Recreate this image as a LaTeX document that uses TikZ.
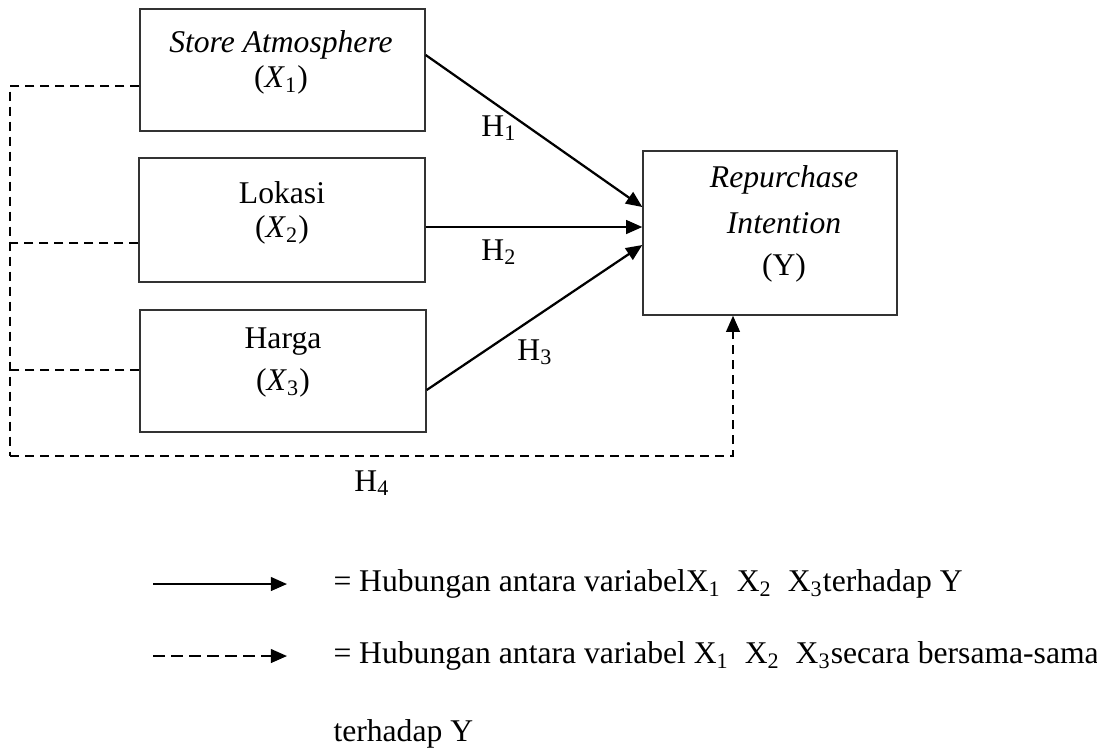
\documentclass[tikz,border=0pt]{standalone}
\usepackage{fontspec}
\setmainfont{Liberation Serif}
\usetikzlibrary{arrows.meta}
\begin{document}
\begin{tikzpicture}[x=0.4pt,y=-0.4pt,
  varbox/.style={draw=black!80,line width=0.55pt,minimum width=#1*0.4pt,inner sep=0pt},
  txt/.style={font=\fontsize{12.65pt}{14pt}\selectfont,inner sep=0pt,anchor=center},
  ltxt/.style={font=\fontsize{12.65pt}{14pt}\selectfont,inner sep=0pt,anchor=west},
  solidarrow/.style={line width=0.9pt,-{Triangle[length=6.5pt,width=5.5pt]}},
  dashline/.style={line width=0.8pt,dash pattern=on 3.6pt off 2.4pt},
  dasharrow/.style={dashline,-{Triangle[length=6.5pt,width=5.5pt]}},
  legdash/.style={line width=0.9pt,dash pattern=on 4.6pt off 2.6pt,-{Triangle[length=6.5pt,width=5.5pt]}}]
\useasboundingbox (0,0) rectangle (1097,749);
% boxes
\node[varbox=285,minimum height=48.8pt] (x1box) at (282.5,70) {};
\node[varbox=286,minimum height=49.6pt] (x2box) at (282,220) {};
\node[varbox=286,minimum height=48.8pt] (x3box) at (283,371) {};
\node[varbox=254,minimum height=65.6pt] (ybox) at (770,233) {};
% box texts
\node[txt] (t1a) at (281,45) {\textit{Store Atmosphere}};
\node[txt] (t1b) at (281,80) {(\textit{X}\textsubscript{1})};
\node[txt] (t2a) at (282,193) {Lokasi};
\node[txt] (t2b) at (282,230) {(\textit{X}\textsubscript{2})};
\node[txt] (t3a) at (283,342) {Harga};
\node[txt] (t3b) at (283,383) {(\textit{X}\textsubscript{3})};
\node[txt] (tya) at (784,180) {\textit{Repurchase}};
\node[txt] (tyb) at (784,223) {\textit{Intention}};
\node[txt] (tyc) at (784,268) {(Y)};
% solid arrows
\draw[solidarrow] (x1box.east |- 0,55) -- (ybox.west |- 0,207);
\draw[solidarrow] (x2box.east |- 0,227) -- (ybox.west |- 0,227);
\draw[solidarrow] (x3box.east |- 0,390) -- (ybox.west |- 0,245);
\node[txt] (h1) at (499,128) {H\textsubscript{1}};
\node[txt] (h2) at (499,252) {H\textsubscript{2}};
\node[txt] (h3) at (535,352) {H\textsubscript{3}};
% dashed
\coordinate (tl) at (10,86);
\coordinate (j2) at (10,243);
\coordinate (j3) at (10,370);
\coordinate (bl) at (10,456);
\coordinate (br) at (733,456);
\draw[dashline] (x1box.west |- tl) -- (tl) -- (bl);
\draw[dashline] (x2box.west |- j2) -- (j2);
\draw[dashline] (x3box.west |- j3) -- (j3);
\draw[dasharrow] (bl) -- (br) -- (br |- ybox.south);
\node[txt] (h4) at (372,483) {H\textsubscript{4}};
% legend
\coordinate (la1) at (153,584);
\coordinate (la2) at (287,584);
\coordinate (lb1) at (153,656);
\coordinate (lb2) at (287,656);
\draw[solidarrow] (la1) -- (la2);
\draw[legdash] (lb1) -- (lb2);
\node[ltxt] (leg1) at (333,584) {= Hubungan antara variabelX\textsubscript{1}\ \ X\textsubscript{2}\ \ X\textsubscript{3}terhadap Y};
\node[ltxt] (leg2) at (333,656) {= Hubungan antara variabel X\textsubscript{1}\ \ X\textsubscript{2}\ \ X\textsubscript{3}secara bersama-sama};
\node[ltxt] (leg3) at (333,734) {terhadap Y};
\end{tikzpicture}
\end{document}
